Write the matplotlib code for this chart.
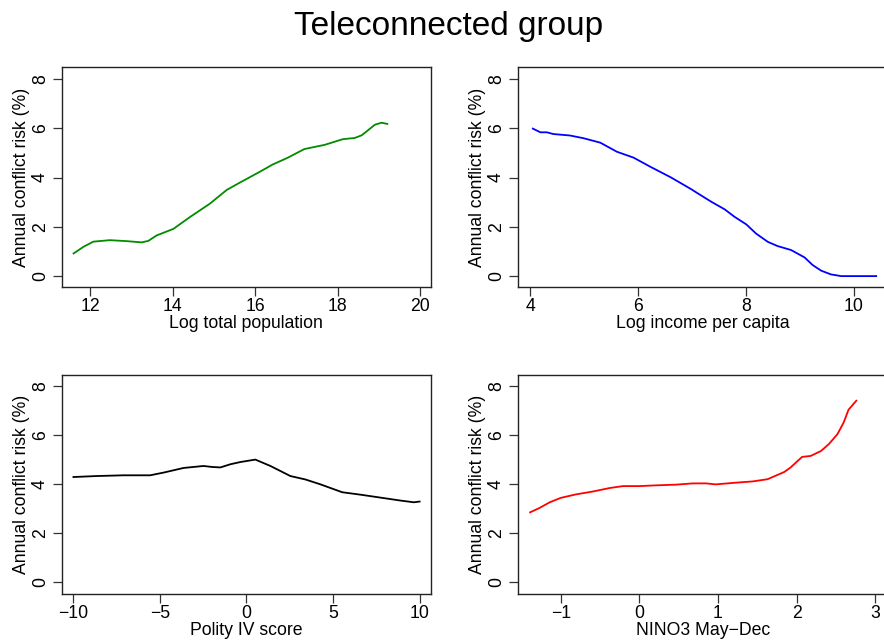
import matplotlib
matplotlib.use('Agg')
import matplotlib.pyplot as plt

plt.rcParams['font.family'] = ['Liberation Sans', 'DejaVu Sans']

# values
pop_x = [11.6, 11.84, 12.08, 12.48, 12.89, 13.25, 13.41, 13.61, 14.02, 14.42, 14.9, 15.31,
         15.63, 16.06, 16.42, 16.79, 17.19, 17.68, 18.12, 18.41, 18.58, 18.9, 19.06, 19.2]
pop_y = [0.92, 1.19, 1.4, 1.46, 1.42, 1.37, 1.43, 1.65, 1.92, 2.4, 2.94, 3.5,
         3.8, 4.19, 4.53, 4.81, 5.16, 5.33, 5.56, 5.61, 5.72, 6.15, 6.23, 6.18]

inc_x = [4.05, 4.19, 4.31, 4.43, 4.74, 4.99, 5.3, 5.61, 5.92, 6.23, 6.61, 6.98, 7.11, 7.36,
         7.61, 7.79, 8.01, 8.19, 8.41, 8.59, 8.84, 9.09, 9.24, 9.4, 9.58, 9.77, 10.42]
inc_y = [5.99, 5.84, 5.84, 5.77, 5.71, 5.6, 5.42, 5.05, 4.81, 4.44, 4.01, 3.54, 3.36, 3.02,
         2.71, 2.41, 2.1, 1.73, 1.39, 1.22, 1.06, 0.76, 0.45, 0.22, 0.07, 0.0, 0.0]

pol_x = [-9.98, -8.63, -7.09, -5.55, -4.78, -3.62, -2.47, -1.98, -1.5, -0.92, -0.35, 0.52,
         1.39, 2.54, 3.41, 4.28, 5.53, 6.59, 7.75, 8.9, 9.67, 10.0]
pol_y = [4.29, 4.33, 4.36, 4.36, 4.47, 4.66, 4.74, 4.7, 4.68, 4.81, 4.9, 5.0,
         4.74, 4.33, 4.19, 3.99, 3.67, 3.57, 3.45, 3.33, 3.26, 3.29]

nino_x = [-1.39, -1.27, -1.14, -1.0, -0.81, -0.59, -0.38, -0.21, 0.0, 0.21, 0.47, 0.68, 0.85,
          0.97, 1.23, 1.44, 1.63, 1.84, 1.92, 2.07, 2.18, 2.31, 2.41, 2.52, 2.6, 2.66, 2.76]
nino_y = [2.85, 3.03, 3.26, 3.44, 3.58, 3.7, 3.84, 3.92, 3.92, 3.95, 3.98, 4.03, 4.03,
          3.99, 4.06, 4.11, 4.2, 4.49, 4.67, 5.11, 5.15, 5.35, 5.63, 6.04, 6.52, 7.03, 7.4]

y_ticks = [0, 2, 4, 6, 8]
pop_ticks = [12, 14, 16, 18, 20]
inc_ticks = [4, 6, 8, 10]
pol_ticks = [-10, -5, 0, 5, 10]
nino_ticks = [-1, 0, 1, 2, 3]

y_label = 'Annual conflict risk (%)'
fs = 12.7

fig = plt.figure(figsize=(8.84, 6.44), dpi=100)
W, H = 884, 644


def make_ax(left, top, right, bottom):
    return fig.add_axes([left / W, 1 - bottom / H, (right - left) / W, (bottom - top) / H])


def style(ax, x, y, color, xticks, xlim, ylim, xlabel):
    ax.plot(x, y, color=color, lw=1.3)
    ax.set_xlim(xlim)
    ax.set_ylim(ylim)
    ax.set_xticks(xticks)
    ax.set_yticks(y_ticks)
    for s in ax.spines.values():
        s.set_linewidth(1.0)
        s.set_color('#222222')
    ax.tick_params(direction='out', length=6.5, width=0.9, color='#333333',
                   labelsize=fs, pad=1.5)
    ax.tick_params(axis='y', labelrotation=90, pad=3)
    for lab in ax.get_yticklabels():
        lab.set_va('center')
    ax.set_xlabel(xlabel, fontsize=fs, va='top')
    ax.xaxis.set_label_coords(0.5, -28.0 / 219.5)
    ax.set_ylabel(y_label, fontsize=fs, va='center')
    ax.yaxis.set_label_coords(-41.0 / 368.7, 0.5)


ax1 = make_ax(62, 67.3, 430.7, 286.7)
style(ax1, pop_x, pop_y, '#008B00', pop_ticks, (11.32, 20.25), (-0.43, 8.48), 'Log total population')

ax2 = make_ax(518.3, 67.3, 887, 286.7)
style(ax2, inc_x, inc_y, '#0000FF', inc_ticks, (3.78, 10.62), (-0.43, 8.48), 'Log income per capita')

ax3 = make_ax(62, 374.7, 430.7, 594.3)
style(ax3, pol_x, pol_y, 'black', pol_ticks, (-10.64, 10.64), (-0.49, 8.46), 'Polity IV score')

ax4 = make_ax(518.3, 374.7, 887, 594.3)
style(ax4, nino_x, nino_y, '#FF0000', nino_ticks, (-1.54, 3.15), (-0.49, 8.46), 'NINO3 May\u2212Dec')

fig.text(449 / W, 1 - 26 / H, 'Teleconnected group', fontsize=24, ha='center', va='center')

plt.savefig('out.png', dpi=100)
